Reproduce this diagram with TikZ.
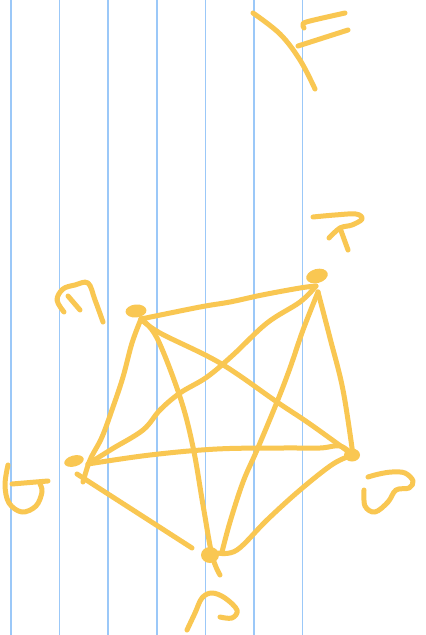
\documentclass[tikz,border=0pt]{standalone}
\definecolor{inkc}{RGB}{249,199,82}
\definecolor{rulec}{RGB}{155,200,248}
\begin{document}
\begin{tikzpicture}[x=1pt,y=-1pt,
  ink/.style={draw=inkc, line width=5pt, line cap=round, line join=round},
  rulel/.style={draw=rulec, line width=1.8pt},
  blob/.style={fill=inkc, draw=inkc, line width=1pt}]
\useasboundingbox (0,0) rectangle (426,635);
\fill[white] (0,0) rectangle (426,635);
\foreach \x in {11,59.5,108,157,205.5,254,302.5} \draw[rulel] (\x,0) -- (\x,635);

% vertices
\coordinate (A) at (316,286);
\coordinate (B) at (141,319);
\coordinate (C) at (353,455);
\coordinate (D) at (88,464);
\coordinate (E) at (218,553);

% blobs
\fill[inkc, rotate around={15:(317,276)}] (317,276) ellipse (11pt and 7pt);
\fill[inkc, rotate around={5:(136,311)}] (136,311) ellipse (10.5pt and 6.5pt);
\fill[inkc] (352,455) ellipse (8pt and 6.5pt);
\fill[inkc, rotate around={15:(74,461)}] (74,461) ellipse (10pt and 5.5pt);
\fill[inkc] (210,555) ellipse (9pt and 8pt);

% edges
\draw[ink] plot[smooth, tension=0.6] coordinates {(B) (200,307) (230,302) (262,295) (300,288) (A)};
\draw[ink] plot[smooth, tension=0.6] coordinates {(A) (300,302) (267,323) (233,355) (207,377) (180,393) (160,410) (143,430) (112,449) (D)};
\draw[ink] plot[smooth, tension=0.6] coordinates {(318,292) (330,338) (343,390) (C)};
\draw[ink] plot[smooth, tension=0.6] coordinates {(318,292) (303,330) (290,368) (277,402) (257,450) (243,482) (230,522) (222,552)};
\draw[ink] plot[smooth, tension=0.6] coordinates {(B) (160,333) (220,363) (277,402) (310,424) (C)};
\draw[ink] plot[smooth, tension=0.6] coordinates {(B) (132,343) (123,377) (113,407) (102,437) (90,460) (83,482)};
\draw[ink] plot[smooth, tension=0.6] coordinates {(B) (157,338) (180,397) (193,447) (203,505) (212,555) (220,575)};
\draw[ink] plot[smooth, tension=0.6] coordinates {(D) (150,455) (217,449) (283,448) (320,448) (340,446) (C)};
\draw[ink] (77,474) -- (192,548);
\draw[ink] plot[smooth, tension=0.6] coordinates {(E) (237,550) (267,520) (300,490) (333,464) (C)};

% label strokes
% top
\draw[ink] plot[smooth, tension=0.6] coordinates {(253,13) (280,34) (300,60) (315,89)};
\draw[ink] plot[smooth, tension=0.6] coordinates {(304,28) (303,24) (310,21) (345,13)};
\draw[ink] plot[smooth, tension=0.6] coordinates {(298,46) (323,38) (348,30)};
% near B
\draw[ink] plot[smooth, tension=0.6] coordinates {(64,312) (57,300) (63,289) (75,285) (88,283) (95,300) (103,322)};
\draw[ink] (68,296) -- (80,310);
% near A
\draw[ink] plot[smooth, tension=0.6] coordinates {(313,217) (335,215) (356,214) (362,219) (352,225) (340,228) (329,238)};
\draw[ink] (340,228) -- (348,250);
% near D
\draw[ink] plot[smooth, tension=0.6] coordinates {(8,465) (5,485) (9,503) (22,512) (36,506) (42,492) (40,484)};
\draw[ink] (12,484) -- (48,481);
% near C
\draw[ink] plot[smooth, tension=0.6] coordinates {(364,490) (365,506) (375,512) (388,502) (396,490) (409,488) (413,481) (405,473) (392,472) (379,474) (368,477)};
% near E
\draw[ink] plot[smooth, tension=0.6] coordinates {(187,630) (195,613) (202,598) (212,593) (225,598) (237,610) (232,618) (220,617)};
\end{tikzpicture}
\end{document}
